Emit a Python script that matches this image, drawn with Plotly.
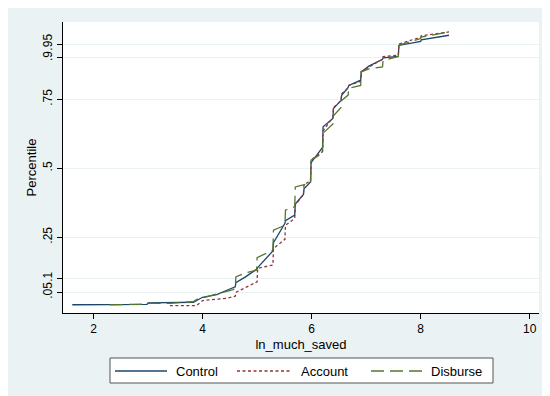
import plotly.graph_objects as go

# ---------------- data ----------------
control_x = [1.61, 2.98, 3.00, 3.83, 4.00, 4.26, 4.50, 4.60, 4.61, 4.78, 5.00, 5.01, 5.29, 5.30,
             5.51, 5.52, 5.69, 5.70, 5.85, 5.86, 5.98, 5.99, 6.20, 6.21, 6.39, 6.40, 6.54, 6.55,
             6.67, 6.68, 6.90, 6.91, 7.05, 7.30, 7.31, 7.59, 7.60, 8.00, 8.01, 8.52]
control_y = [0.005, 0.006, 0.012, 0.014, 0.032, 0.042, 0.062, 0.070, 0.085, 0.105, 0.135, 0.140,
             0.200, 0.230, 0.300, 0.310, 0.330, 0.370, 0.405, 0.425, 0.450, 0.520, 0.575, 0.650,
             0.680, 0.716, 0.746, 0.764, 0.793, 0.800, 0.819, 0.849, 0.870, 0.895, 0.900, 0.905,
             0.945, 0.960, 0.965, 0.982]

account_x = [3.40, 3.89, 4.00, 4.44, 4.60, 4.61, 5.00, 5.01, 5.29, 5.30, 5.51, 5.52, 5.69, 5.70,
             5.85, 5.86, 5.98, 5.99, 6.20, 6.21, 6.39, 6.40, 6.54, 6.55, 6.67, 6.68, 6.90, 6.91,
             7.30, 7.31, 7.59, 7.60, 8.00, 8.01, 8.52]
account_y = [0.002, 0.002, 0.020, 0.028, 0.036, 0.050, 0.088, 0.137, 0.149, 0.209, 0.242, 0.293,
             0.318, 0.366, 0.405, 0.440, 0.455, 0.530, 0.560, 0.635, 0.685, 0.720, 0.745, 0.770,
             0.790, 0.800, 0.815, 0.850, 0.895, 0.905, 0.910, 0.950, 0.975, 0.980, 0.994]

disburse_x = [2.30, 2.98, 3.00, 3.40, 3.83, 3.90, 4.00, 4.56, 4.60, 4.61, 4.78, 4.99, 5.00, 5.29,
              5.30, 5.51, 5.52, 5.69, 5.70, 5.98, 5.99, 6.20, 6.21, 6.39, 6.40, 6.54, 6.55, 6.67,
              6.68, 6.90, 6.91, 7.05, 7.30, 7.31, 7.59, 7.60, 8.00, 8.01, 8.52]
disburse_y = [0.005, 0.007, 0.010, 0.010, 0.016, 0.025, 0.030, 0.060, 0.065, 0.106, 0.120, 0.130,
              0.176, 0.203, 0.275, 0.293, 0.348, 0.360, 0.432, 0.446, 0.529, 0.554, 0.627, 0.660,
              0.690, 0.720, 0.745, 0.765, 0.790, 0.800, 0.849, 0.860, 0.867, 0.890, 0.905, 0.946,
              0.970, 0.975, 0.994]

y_ticks = [0.05, 0.1, 0.25, 0.5, 0.75, 0.9, 0.95]
y_tick_labels = [".05", ".1", ".25", ".5", ".75", ".9", ".95"]
x_ticks = [2, 4, 6, 8, 10]
series_names = ["Control", "Account", "Disburse"]

# ---------------- styling ----------------
BG = "#EAF2F3"
COLORS = ["#1A476F", "#90353B", "#55752F"]
DASHES = ["solid", "3px,2.5px", "13px,6px"]
FONT = "Liberation Sans, Arial, Helvetica, sans-serif"

OFF = 8  # page body margin in the browser
W, H = 550 - OFF, 396 - OFF
L, R, T, B = 55, 11, 14, 83
PW, PH = W - L - R, H - T - B


def px2x(px):
    # screen px -> paper x
    return (px - OFF - L) / PW


def px2y(py):
    # screen px -> paper y
    return (H - B - (py - OFF)) / PH


fig = go.Figure()
for name, xs, ys, col, dash in zip(series_names,
                                   [control_x, account_x, disburse_x],
                                   [control_y, account_y, disburse_y],
                                   COLORS, DASHES):
    fig.add_trace(go.Scatter(x=xs, y=ys, mode="lines", name=name,
                             line=dict(color=col, width=1.3, dash=dash),
                             showlegend=False))

shapes = [
    # legend box
    dict(type="rect", xref="paper", yref="paper", x0=px2x(110), x1=px2x(493), y0=px2y(383), y1=px2y(358),
         fillcolor="white", line=dict(color="#555555", width=1)),
]
annotations = []
leg_y = 371
sample_x = [(115, 167), (237, 290), (371, 423)]
text_x = [174, 299, 429]
for name, col, dash, (a, b), tx in zip(series_names, COLORS, DASHES, sample_x, text_x):
    shapes.append(dict(type="line", xref="paper", yref="paper", x0=px2x(a), x1=px2x(b),
                       y0=px2y(leg_y), y1=px2y(leg_y), line=dict(color=col, width=1.3, dash=dash)))
    annotations.append(dict(text=name, xref="paper", yref="paper", x=px2x(tx), y=px2y(leg_y),
                            xanchor="left", yanchor="middle", showarrow=False,
                            font=dict(family=FONT, size=13, color="black")))

fig.update_layout(
    width=W, height=H,
    margin=dict(l=L, r=R, t=T, b=B, pad=0),
    paper_bgcolor=BG, plot_bgcolor="white",
    font=dict(family=FONT, size=12, color="black"),
    shapes=shapes, annotations=annotations,
    showlegend=False,
    xaxis=dict(range=[1.44, 10.17], tickvals=x_ticks, ticktext=[str(v) for v in x_ticks],
               showgrid=False, zeroline=False, showline=True, linecolor="black", linewidth=1,
               ticks="outside", ticklen=5, tickcolor="black", tickwidth=1,
               tickfont=dict(size=12),
               title=dict(text="ln_much_saved", font=dict(size=13), standoff=4)),
    yaxis=dict(range=[-0.025, 1.03], tickvals=y_ticks, ticktext=y_tick_labels, tickangle=-90,
               showgrid=True, gridcolor=BG, gridwidth=1, zeroline=False,
               showline=True, linecolor="black", linewidth=1,
               ticks="outside", ticklen=5, tickcolor="black", tickwidth=1,
               tickfont=dict(size=12),
               title=dict(text="Percentile", font=dict(size=13), standoff=1)),
)

fig.write_html("out.html")
